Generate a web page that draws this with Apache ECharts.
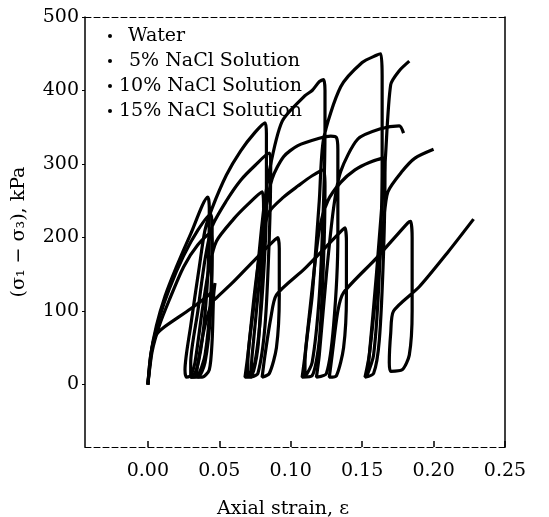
<!DOCTYPE html>
<html>
<head>
<meta charset="utf-8">
<script src="https://cdn.jsdelivr.net/npm/echarts@6/dist/echarts.min.js"></script>
<style>
html,body{margin:0;padding:0;background:#fff;}
#chart{width:549px;height:517px;}
</style>
</head>
<body>
<div id="chart"></div>
<script>
// ---- data ----
const seriesNames = ['Water', '5% NaCl Solution', '10% NaCl Solution', '15% NaCl Solution'];
const xTicks = [0, 0.05, 0.10, 0.15, 0.20, 0.25];
const yTicks = [0, 100, 200, 300, 400, 500];

const waterStrain = [0, 0.002, 0.005, 0.010, 0.03, 0.045, 0.047, 0.046, 0.045, 0.043, 0.038, 0.034, 0.036, 0.040, 0.045, 0.048, 0.06, 0.075, 0.089, 0.091, 0.092, 0.092, 0.090, 0.085, 0.080, 0.082, 0.086, 0.090, 0.11, 0.136, 0.138, 0.139, 0.139, 0.137, 0.132, 0.127, 0.129, 0.133, 0.137, 0.16, 0.182, 0.184, 0.185, 0.185, 0.183, 0.178, 0.170, 0.169, 0.170, 0.172, 0.19, 0.21, 0.228];
const waterStress = [0, 40, 65, 76, 103, 126, 138, 120, 60, 20, 10, 12, 40, 80, 112, 118, 140, 170, 197, 200, 185, 120, 50, 15, 10, 40, 90, 122, 158, 210, 213, 195, 120, 50, 12, 10, 40, 100, 125, 172, 220, 222, 200, 100, 40, 20, 18, 30, 70, 100, 133, 180, 225];

const nacl5Strain = [0, 0.003, 0.008, 0.015, 0.025, 0.035, 0.044, 0.045, 0.044, 0.040, 0.035, 0.030, 0.030, 0.035, 0.040, 0.045, 0.055, 0.065, 0.075, 0.085, 0.086, 0.085, 0.082, 0.077, 0.072, 0.073, 0.078, 0.082, 0.087, 0.095, 0.105, 0.12, 0.128, 0.132, 0.133, 0.133, 0.130, 0.125, 0.118, 0.120, 0.125, 0.130, 0.135, 0.147, 0.163, 0.176, 0.179];
const nacl5Stress = [0, 50, 90, 130, 175, 210, 232, 215, 120, 40, 12, 10, 30, 100, 170, 215, 250, 278, 298, 315, 300, 200, 80, 15, 10, 40, 140, 230, 280, 310, 325, 335, 338, 336, 320, 200, 80, 15, 10, 40, 150, 240, 290, 334, 348, 352, 342];

const nacl10Strain = [0, 0.003, 0.008, 0.015, 0.025, 0.035, 0.044, 0.045, 0.044, 0.040, 0.035, 0.030, 0.033, 0.038, 0.043, 0.048, 0.06, 0.07, 0.08, 0.081, 0.080, 0.077, 0.072, 0.068, 0.070, 0.075, 0.080, 0.085, 0.095, 0.105, 0.115, 0.123, 0.124, 0.123, 0.120, 0.115, 0.108, 0.110, 0.115, 0.120, 0.126, 0.135, 0.145, 0.155, 0.165, 0.166, 0.165, 0.162, 0.158, 0.152, 0.155, 0.160, 0.165, 0.168, 0.178, 0.187, 0.200];
const nacl10Stress = [0, 45, 80, 115, 160, 190, 206, 190, 100, 30, 10, 10, 30, 100, 160, 195, 225, 245, 262, 240, 150, 50, 10, 10, 40, 130, 200, 235, 255, 270, 284, 292, 270, 170, 60, 12, 10, 40, 130, 210, 250, 275, 292, 302, 308, 290, 180, 60, 15, 10, 40, 130, 220, 262, 290, 308, 320];

const nacl15Strain = [0, 0.002, 0.006, 0.012, 0.020, 0.030, 0.042, 0.043, 0.042, 0.038, 0.033, 0.027, 0.026, 0.030, 0.036, 0.040, 0.045, 0.055, 0.065, 0.075, 0.082, 0.083, 0.083, 0.080, 0.075, 0.070, 0.070, 0.075, 0.080, 0.085, 0.094, 0.110, 0.115, 0.120, 0.123, 0.124, 0.124, 0.123, 0.120, 0.115, 0.110, 0.110, 0.115, 0.120, 0.123, 0.135, 0.150, 0.160, 0.163, 0.164, 0.164, 0.162, 0.158, 0.153, 0.155, 0.160, 0.166, 0.170, 0.176, 0.183];
const nacl15Stress = [0, 40, 80, 120, 160, 205, 255, 240, 150, 60, 15, 10, 20, 80, 160, 210, 240, 285, 318, 343, 356, 340, 250, 120, 30, 10, 30, 120, 220, 290, 358, 393, 400, 412, 415, 400, 350, 250, 120, 30, 10, 30, 120, 250, 334, 405, 438, 448, 450, 420, 300, 150, 40, 10, 40, 150, 300, 408, 427, 440];

// ---- build ----
function zip(xs, ys) { return xs.map((x, i) => [x, ys[i]]); }
const seriesData = [
  zip(waterStrain, waterStress),
  zip(nacl5Strain, nacl5Stress),
  zip(nacl10Strain, nacl10Stress),
  zip(nacl15Strain, nacl15Stress)
];

const FONT = 'DejaVu Serif';
const FS = 19;
const chart = echarts.init(document.getElementById('chart'), null, {renderer: 'canvas'});
chart.setOption({
  animation: false,
  backgroundColor: '#fff',
  grid: {left: 85, right: 44, top: 17, bottom: 70, containLabel: false, outerBoundsMode: 'none'},
  legend: {
    orient: 'vertical',
    left: 103,
    top: 21,
    itemGap: 5,
    icon: 'circle',
    itemWidth: 4,
    itemHeight: 4,
    data: seriesNames,
    formatter: function (n) {
      if (n === 'Water') return '{a|' + n + '}';
      if (n === '5% NaCl Solution') return '{b|' + n + '}';
      return '{c|' + n + '}';
    },
    textStyle: {
      fontFamily: FONT, fontSize: FS, color: '#000', lineHeight: 20,
      rich: {
        a: {fontFamily: FONT, fontSize: FS, color: '#000', padding: [0, 0, 0, 11]},
        b: {fontFamily: FONT, fontSize: FS, color: '#000', padding: [0, 0, 0, 12]},
        c: {fontFamily: FONT, fontSize: FS, color: '#000', padding: [0, 0, 0, 2]}
      }
    }
  },
  xAxis: [{
    type: 'value',
    min: -0.044,
    max: 0.25,
    name: 'Axial strain, ε',
    nameLocation: 'middle',
    nameGap: 53,
    nameTextStyle: {fontFamily: FONT, fontSize: FS, color: '#000', padding: [0, 24, 0, 0]},
    axisLine: {show: true, onZero: false, lineStyle: {color: '#000', width: 1, type: [6, 3]}},
    axisTick: {show: true, inside: true, length: 6, customValues: xTicks, lineStyle: {color: '#000', width: 1.5}},
    axisLabel: {
      customValues: xTicks,
      fontFamily: FONT, fontSize: FS, color: '#000', margin: 15,
      formatter: v => v.toFixed(2)
    },
    splitLine: {show: false}
  }, {
    type: 'value',
    position: 'top',
    min: 0, max: 1,
    axisLine: {show: true, onZero: false, lineStyle: {color: '#000', width: 1, type: [6, 3]}},
    axisTick: {show: false},
    axisLabel: {show: false},
    splitLine: {show: false}
  }],
  yAxis: [{
    type: 'value',
    min: -85,
    max: 500,
    name: '(σ₁ − σ₃), kPa',
    nameLocation: 'middle',
    nameRotate: 90,
    nameGap: 56,
    nameTextStyle: {fontFamily: FONT, fontSize: FS, color: '#000'},
    axisLine: {show: true, onZero: false, lineStyle: {color: '#000', width: 1.5}},
    axisTick: {show: true, length: 3, customValues: yTicks, lineStyle: {color: '#000', width: 1}},
    axisLabel: {
      customValues: yTicks,
      fontFamily: FONT, fontSize: FS, color: '#000', margin: 6
    },
    splitLine: {show: false}
  }, {
    type: 'value',
    position: 'right',
    min: 0, max: 1,
    axisLine: {show: true, onZero: false, lineStyle: {color: '#000', width: 1.5}},
    axisTick: {show: false},
    axisLabel: {show: false},
    splitLine: {show: false}
  }],
  series: seriesNames.map((n, i) => ({
    name: n,
    type: 'line',
    xAxisIndex: 0,
    yAxisIndex: 0,
    data: seriesData[i],
    showSymbol: false,
    smooth: 0.25,
    color: '#000',
    lineStyle: {color: '#000', width: 3.2},
    clip: true
  }))
});
</script>
</body>
</html>
